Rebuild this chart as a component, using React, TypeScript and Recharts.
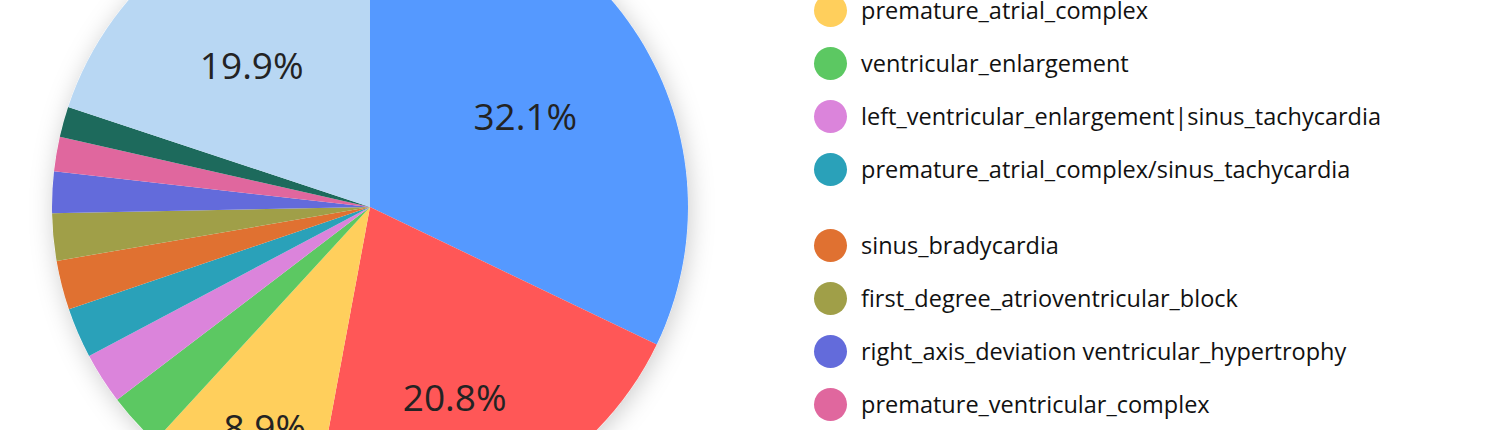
import React from 'react';
import { Cell, Legend, Pie, PieChart } from 'recharts';

// rhythm categories, in drawing order (clockwise from 12 o'clock)
const categories = [
  'sinus_rhythm',
  'sinus_tachycardia',
  'premature_atrial_complex',
  'ventricular_enlargement',
  'left_ventricular_enlargement|sinus_tachycardia',
  'premature_atrial_complex/sinus_tachycardia',
  'sinus_bradycardia',
  'first_degree_atrioventricular_block',
  'right_axis_deviation ventricular_hypertrophy',
  'premature_ventricular_complex',
  'left_axis_deviation',
  'other',
];

// share of records, %
const shares = [32.1, 20.8, 8.9, 2.8, 2.6, 2.55, 2.5, 2.4, 2.1, 1.75, 1.55, 19.9];

const sliceColors = [
  '#5599ff',
  '#ff5757',
  '#ffcf5c',
  '#5cc862',
  '#db84db',
  '#2aa1b9',
  '#e07131',
  '#a09f48',
  '#636bdb',
  '#e0679e',
  '#1d6a5c',
  '#b8d7f3',
];

// label placement tweaks for the big slices: [radius, angle shift]
const labelTweak: Record<number, [number, number]> = {
  0: [180, -1.8],
  1: [208, -2.9],
  2: [243, 0.9],
  11: [185, 3.9],
};

const data = categories.map((name, i) => ({ name, value: shares[i] }));

const RAD = Math.PI / 180;
const CX = 370;
const CY = 207;
const R = 318;

const renderLabel = (props: any) => {
  const { cx, cy, midAngle, percent, index } = props;
  if (percent < 0.05) return null;
  const [r, shift] = labelTweak[index] ?? [180, 0];
  const a = (midAngle + shift) * RAD;
  const x = cx + r * Math.cos(a);
  const y = cy - r * Math.sin(a);
  return (
    <text
      x={x}
      y={y}
      textAnchor="middle"
      dominantBaseline="central"
      fill="#232323"
      fontSize={37}
      fontFamily="'Open Sans', sans-serif"
    >
      {`${(percent * 100).toFixed(1)}%`}
    </text>
  );
};

const renderLegend = ({ payload }: any) => {
  const items = (payload || [])
    .filter((e: any) => categories.includes(e.value))
    .sort((a: any, b: any) => categories.indexOf(a.value) - categories.indexOf(b.value));
  return (
    <ul style={{ listStyle: 'none', margin: 0, padding: 0 }}>
      {items.map((entry: any, i: number) => (
        <li
          key={entry.value}
          style={{
            display: 'flex',
            alignItems: 'center',
            height: 53,
            marginTop: i === 6 ? 23 : 0,
          }}
        >
          <span
            style={{
              width: 33,
              height: 33,
              borderRadius: '50%',
              background: entry.color,
              marginRight: 14,
              flexShrink: 0,
            }}
          />
          <span style={{ fontSize: 23.5, color: '#111', whiteSpace: 'nowrap' }}>{entry.value}</span>
        </li>
      ))}
    </ul>
  );
};

export default function App() {
  return (
    <div
      style={{
        position: 'absolute',
        left: 0,
        top: 0,
        width: 1500,
        height: 430,
        overflow: 'hidden',
        background: '#fff',
        fontFamily: "'Open Sans', sans-serif",
      }}
    >
      <PieChart width={1500} height={430} margin={{ top: 0, right: 0, bottom: 0, left: 0 }}>
        <defs>
          <filter id="pieShadow" x="-20%" y="-20%" width="140%" height="140%">
            <feDropShadow dx="2" dy="4" stdDeviation="12" floodColor="#000" floodOpacity="0.2" />
          </filter>
        </defs>
        <Pie
          data={[{ name: 'shadow', value: 1 }]}
          dataKey="value"
          cx={CX}
          cy={CY}
          outerRadius={R}
          startAngle={90}
          endAngle={-270}
          stroke="none"
          legendType="none"
          isAnimationActive={false}
        >
          <Cell fill="#fff" filter="url(#pieShadow)" />
        </Pie>
        <Pie
          data={data}
          dataKey="value"
          nameKey="name"
          cx={CX}
          cy={CY}
          outerRadius={R}
          startAngle={90}
          endAngle={-270}
          stroke="none"
          labelLine={false}
          label={renderLabel}
          isAnimationActive={false}
        >
          {data.map((d, i) => (
            <Cell key={d.name} fill={sliceColors[i]} />
          ))}
        </Pie>
        <Legend
          content={renderLegend}
          wrapperStyle={{ position: 'absolute', left: 814, top: -122.5, width: 680 }}
        />
      </PieChart>
    </div>
  );
}
